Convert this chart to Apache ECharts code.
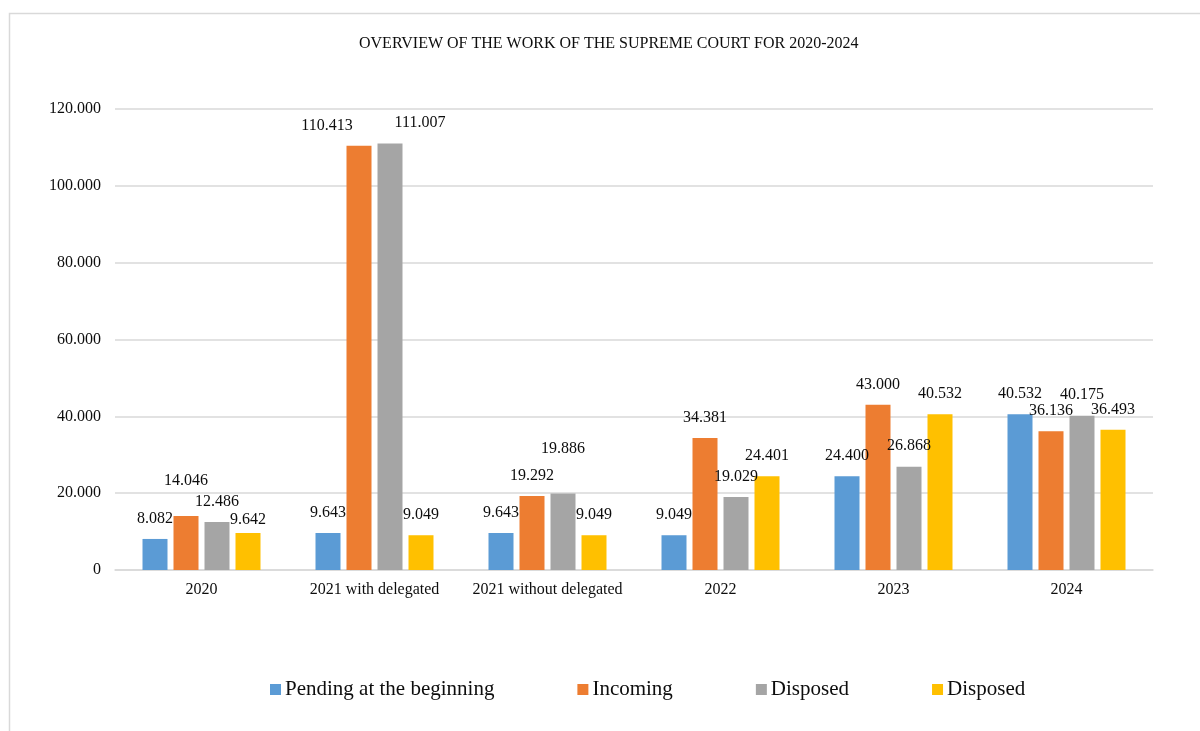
<!DOCTYPE html>
<html>
<head>
<meta charset="utf-8">
<title>Overview of the work of the Supreme Court for 2020-2024</title>
<script src="https://cdn.jsdelivr.net/npm/echarts@6/dist/echarts.min.js"></script>
<style>
  html, body { margin: 0; padding: 0; background: #ffffff; }
  #chart { width: 1200px; height: 731px; }
</style>
</head>
<body>
<div id="chart"></div>
<script>
// Caseload figures per reporting period
const categories = ['2020', '2021 with delegated', '2021 without delegated', '2022', '2023', '2024'];
const pendingAtStart = [8082, 9643, 9643, 9049, 24400, 40532];
const incoming = [14046, 110413, 19292, 34381, 43000, 36136];
const disposed = [12486, 111007, 19886, 19029, 26868, 40175];
const disposedSecond = [9642, 9049, 9049, 24401, 40532, 36493];

const legendLabels = ['Pending at the beginning', 'Incoming', 'Disposed', 'Disposed'];
const seriesKeys = ['pending', 'incoming', 'disposed', 'disposedSecond'];
const seriesValues = [pendingAtStart, incoming, disposed, disposedSecond];
const seriesColors = ['#5B9BD5', '#ED7D31', '#A5A5A5', '#FFC000'];

const yTicks = { min: 0, max: 120000, interval: 20000 };

// Hand-placed label nudges [dx, dy] where neighbouring labels would collide
const labelNudges = {
  'incoming-0': [0, -15],
  'disposedSecond-0': [0, 7],
  'incoming-1': [-32, 0],
  'disposed-1': [30, 0],
  'disposed-2': [0, -24]
};

const fontFamily = '"Liberation Serif", "Times New Roman", serif';
const textColor = '#0d0d0d';

function dotThousands(v) {
  return String(v).replace(/\B(?=(\d{3})+(?!\d))/g, '.');
}

const series = seriesKeys.map(function (key, si) {
  return {
    name: key,
    type: 'bar',
    barWidth: 25,
    barGap: '24%',
    itemStyle: { color: seriesColors[si] },
    label: {
      show: true,
      position: 'top',
      distance: 12,
      fontFamily: fontFamily,
      fontSize: 16,
      lineHeight: 17,
      color: textColor,
      formatter: function (p) { return dotThousands(p.value); }
    },
    data: seriesValues[si].map(function (v, ci) {
      const nudge = labelNudges[key + '-' + ci];
      return nudge ? { value: v, label: { offset: nudge } } : v;
    })
  };
});

const chart = echarts.init(document.getElementById('chart'), null, { renderer: 'canvas' });
chart.setOption({
  animation: false,
  backgroundColor: '#ffffff',
  graphic: [{
    type: 'rect',
    left: 7,
    top: 11,
    shape: { width: 1220, height: 760 },
    style: { fill: 'none', stroke: '#d9d9d9', lineWidth: 1.5 },
    silent: true,
    z: -10
  }],
  title: {
    text: 'OVERVIEW OF THE WORK OF THE SUPREME COURT FOR 2020-2024',
    left: 354,
    top: 31,
    textStyle: { fontFamily: fontFamily, fontSize: 16, fontWeight: 'normal', color: textColor }
  },
  legend: {
    left: 270,
    top: 679,
    padding: 0,
    itemWidth: 11,
    itemHeight: 11,
    itemGap: 83,
    icon: 'rect',
    data: seriesKeys,
    formatter: function (name) { return legendLabels[seriesKeys.indexOf(name)]; },
    textStyle: { fontFamily: fontFamily, fontSize: 21, color: textColor, padding: [0, 0, 0, -1] }
  },
  grid: { left: 115, right: 47, top: 109, bottom: 161, containLabel: false },
  xAxis: {
    type: 'category',
    data: categories,
    axisLine: { lineStyle: { color: '#d9d9d9', width: 1.5 } },
    axisTick: { show: false },
    axisLabel: { fontFamily: fontFamily, fontSize: 16, color: textColor, margin: 12, interval: 0 }
  },
  yAxis: {
    type: 'value',
    min: yTicks.min,
    max: yTicks.max,
    interval: yTicks.interval,
    axisLine: { show: false },
    axisTick: { show: false },
    splitLine: { lineStyle: { color: '#d9d9d9', width: 1.5 } },
    axisLabel: {
      fontFamily: fontFamily,
      fontSize: 16,
      color: textColor,
      margin: 14,
      formatter: function (v) { return dotThousands(v); }
    }
  },
  series: series
});
</script>
</body>
</html>
